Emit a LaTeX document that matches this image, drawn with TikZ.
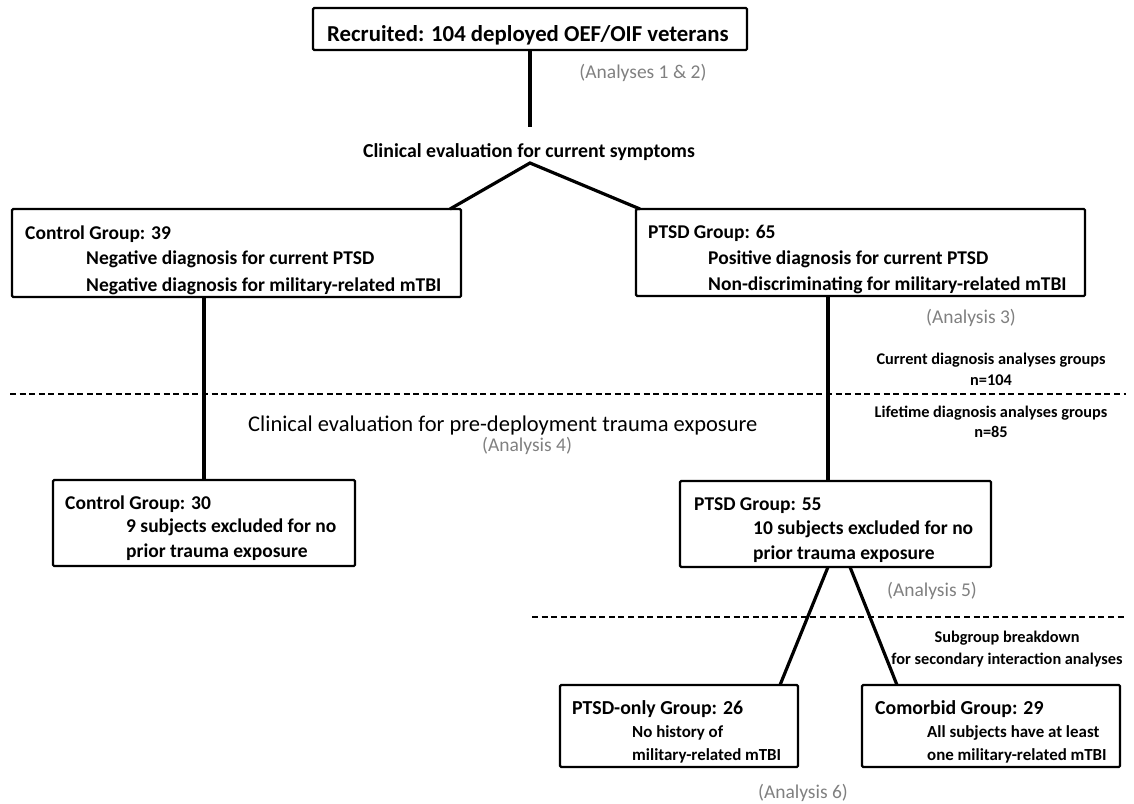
\documentclass[tikz,border=0pt]{standalone}
\usepackage{fontspec}
\setmainfont{Carlito}
\definecolor{lblgray}{RGB}{128,128,128}
\tikzset{
  box/.style={draw, line width=2.2pt, rounded corners=1.2pt, inner sep=0pt, outer sep=0pt, anchor=north west},
  conn/.style={line width=3.2pt},
  sepline/.style={line width=2.2pt, dash pattern=on 6pt off 3.6pt},
  txt/.style={anchor=base west, inner sep=0pt, font=\fontsize{19.5}{22}\selectfont\bfseries},
  head/.style={anchor=base west, inner sep=0pt, font=\fontsize{19.8}{22}\selectfont\bfseries},
  sub/.style={anchor=base west, inner sep=0pt, font=\fontsize{16.9}{19}\selectfont\bfseries},
  side/.style={anchor=base, inner sep=0pt, font=\fontsize{16.3}{18}\selectfont\bfseries},
  gray/.style={anchor=base, inner sep=0pt, text=lblgray, font=\fontsize{19.5}{22}\selectfont},
}
\begin{document}
\begin{tikzpicture}[x=1pt,y=-1pt]
\useasboundingbox (0,0) rectangle (1134,803);
% boxes
\node[box, minimum width=434pt, minimum height=42pt] (top) at (313,8) {};
\node[box, minimum width=449pt, minimum height=88pt] (bL) at (12,209) {};
\node[box, minimum width=449pt, minimum height=87pt] (bR) at (636,209) {};
\node[box, minimum width=302pt, minimum height=86pt] (b30) at (53,480) {};
\node[box, minimum width=311pt, minimum height=86pt] (b55) at (680,481) {};
\node[box, minimum width=238pt, minimum height=82pt] (bPO) at (560,685) {};
\node[box, minimum width=258pt, minimum height=82pt] (bCo) at (862,685) {};
% texts
\node[anchor=base west, inner sep=0pt, font=\fontsize{22.8}{26}\selectfont\bfseries] (t0) at (327,41) {Recruited: 104 deployed OEF/OIF veterans};
\node[gray] (a12) at (643,78) {(Analyses 1 \& 2)};
\node[anchor=base, inner sep=0pt, font=\fontsize{19.8}{22}\selectfont\bfseries] (ce1) at (529,157) {Clinical evaluation for current symptoms};
\node[txt] (l1) at (25,239) {Control Group: 39};
\node[txt] (l2) at (86,264) {Negative diagnosis for current PTSD};
\node[txt] (l3) at (86,291) {Negative diagnosis for military-related mTBI};
\node[txt] (r1) at (648,238) {PTSD Group: 65};
\node[txt] (r2) at (708,264) {Positive diagnosis for current PTSD};
\node[txt] (r3) at (708,290) {Non-discriminating for military-related mTBI};
\node[gray] (a3) at (971,323) {(Analysis 3)};
\node[side] (s1) at (991,364) {Current diagnosis analyses groups};
\node[side] (s2) at (991,385) {n=104};
\node[side] (s3) at (991,417) {Lifetime diagnosis analyses groups};
\node[side] (s4) at (991,437) {n=85};
\node[anchor=base west, inner sep=0pt, font=\fontsize{22.5}{26}\selectfont] (ce2) at (248,431) {Clinical evaluation for pre-deployment trauma exposure};
\node[gray, anchor=base west] (a4) at (482,451) {(Analysis 4)};
\node[txt] (c1) at (65,509) {Control Group: 30};
\node[txt] (c2) at (126,532) {9 subjects excluded for no};
\node[txt] (c3) at (126,557) {prior trauma exposure};
\node[txt] (p1) at (694,510) {PTSD Group: 55};
\node[txt] (p2) at (753,534) {10 subjects excluded for no};
\node[txt] (p3) at (753,559) {prior trauma exposure};
\node[gray] (a5) at (932,596) {(Analysis 5)};
\node[side] (s5) at (1007,642) {Subgroup breakdown};
\node[side] (s6) at (1007,664) {for secondary interaction analyses};
\node[head] (o1) at (572,714) {PTSD-only Group: 26};
\node[sub] (o2) at (632,737) {No history of};
\node[sub] (o3) at (632,760) {military-related mTBI};
\node[head] (m1) at (875,714) {Comorbid Group: 29};
\node[sub] (m2) at (927,737) {All subjects have at least};
\node[sub] (m3) at (927,760) {one military-related mTBI};
\node[gray] (a6) at (803,798) {(Analysis 6)};
% coordinates
\coordinate (k1) at (530,127);
\coordinate (apex) at (530,163);
\coordinate (aL) at (450,209);
\coordinate (aR) at (640,209);
\coordinate (xL) at (204,0);
\coordinate (xR) at (828,0);
\coordinate (x2) at (850,0);
\coordinate (x3) at (780,0);
\coordinate (x4) at (897,0);
\coordinate (d1a) at (10,394);
\coordinate (d1b) at (1126,394);
\coordinate (d2a) at (532,617);
\coordinate (d2b) at (1126,617);
% connectors
\draw[conn] (top.south) -- (k1);
\draw[conn, line join=miter] (aL) -- (apex) -- (aR);
\draw[conn] (bL.south -| xL) -- (b30.north -| xL);
\draw[conn] (bR.south -| xR) -- (b55.north -| xR);
\draw[conn] (b55.south -| xR) -- (bPO.north -| x3);
\draw[conn] (b55.south -| x2) -- (bCo.north -| x4);
% dashed separators
\draw[sepline] (d1a) -- (d1b);
\draw[sepline] (d2a) -- (d2b);
\end{tikzpicture}
\end{document}
